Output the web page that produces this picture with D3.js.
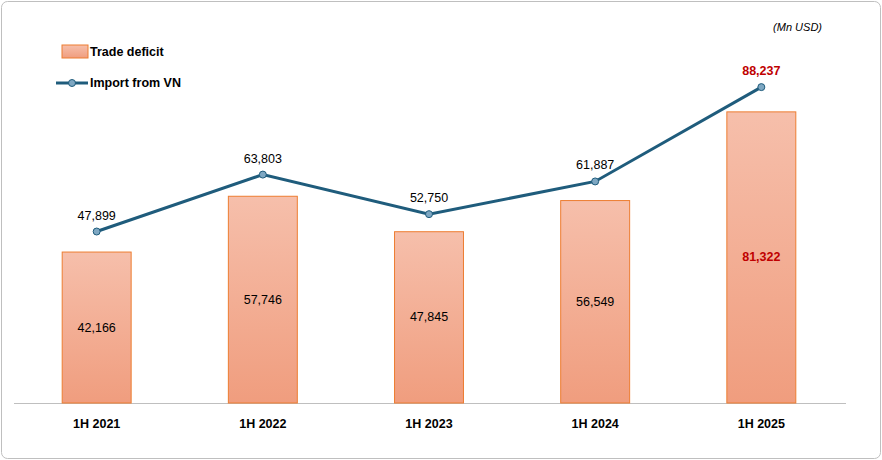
<!DOCTYPE html>
<html><head><meta charset="utf-8">
<script src="https://cdn.jsdelivr.net/npm/d3@7"></script>
<style>body{margin:0;background:#fff;font-family:Arial,"Liberation Sans",sans-serif}</style>
</head><body><svg id="c" width="882" height="460"></svg>
<script>
const periods = ["1H 2021", "1H 2022", "1H 2023", "1H 2024", "1H 2025"];
const tradeDeficit = [42166, 57746, 47845, 56549, 81322];
const importFromVN = [47899, 63803, 52750, 61887, 88237];

const svg = d3.select("#c");
const defs = svg.append("defs");
const grad = defs.append("linearGradient").attr("id", "barg").attr("x1", 0).attr("y1", 0).attr("x2", 0).attr("y2", 1);
grad.append("stop").attr("offset", "0%").attr("stop-color", "#f6bfab");
grad.append("stop").attr("offset", "100%").attr("stop-color", "#f09d7e");

svg.append("rect").attr("x", 1.5).attr("y", 1.5).attr("width", 879).attr("height", 457)
  .attr("rx", 6).attr("fill", "#fff").attr("stroke", "#bfbfbf");

const x = d3.scaleBand().domain(periods).range([14, 844]).paddingInner(0.585).paddingOuter(0.29);
const y = d3.scaleLinear().domain([0, 100000]).range([403, 45]);

svg.append("line").attr("x1", 14).attr("x2", 846).attr("y1", 403.5).attr("y2", 403.5).attr("stroke", "#bfbfbf");

svg.selectAll(".bar").data(tradeDeficit).join("rect")
  .attr("x", (d, i) => x(periods[i])).attr("width", x.bandwidth())
  .attr("y", d => y(d)).attr("height", d => y(0) - y(d))
  .attr("fill", "url(#barg)").attr("stroke", "#ed7d31").attr("stroke-width", 1);

const fmt = d3.format(",");
svg.selectAll(".bl").data(tradeDeficit).join("text")
  .attr("x", (d, i) => x(periods[i]) + x.bandwidth() / 2)
  .attr("y", d => (y(d) + y(0)) / 2 + 4)
  .attr("text-anchor", "middle").attr("font-size", 12.5)
  .attr("fill", (d, i) => i === 4 ? "#c00000" : "#000")
  .attr("font-weight", (d, i) => i === 4 ? "bold" : "normal")
  .text(d => fmt(d));

const cx = i => x(periods[i]) + x.bandwidth() / 2;
svg.append("path").datum(importFromVN)
  .attr("d", d3.line().x((d, i) => cx(i)).y(d => y(d)))
  .attr("fill", "none").attr("stroke", "#1f5c7c").attr("stroke-width", 3);
svg.selectAll(".pt").data(importFromVN).join("circle")
  .attr("cx", (d, i) => cx(i)).attr("cy", d => y(d)).attr("r", 3.5)
  .attr("fill", "#7ea7c2").attr("stroke", "#1f5c7c").attr("stroke-width", 1);
svg.selectAll(".ll").data(importFromVN).join("text")
  .attr("x", (d, i) => cx(i)).attr("y", d => y(d) - 12)
  .attr("text-anchor", "middle").attr("font-size", 12.5)
  .attr("fill", (d, i) => i === 4 ? "#c00000" : "#000")
  .attr("font-weight", (d, i) => i === 4 ? "bold" : "normal")
  .text(d => fmt(d));

svg.append("g").selectAll("text").data(periods).join("text")
  .attr("x", d => x(d) + x.bandwidth() / 2).attr("y", 428)
  .attr("text-anchor", "middle").attr("font-size", 12.5).attr("font-weight", "bold")
  .text(d => d);

// legend
svg.append("rect").attr("x", 62).attr("y", 45).attr("width", 26).attr("height", 13)
  .attr("fill", "url(#barg)").attr("stroke", "#ed7d31");
svg.append("text").attr("x", 90).attr("y", 56).attr("font-size", 12.5).attr("font-weight", "bold").text("Trade deficit");
svg.append("line").attr("x1", 56).attr("x2", 88).attr("y1", 83).attr("y2", 83).attr("stroke", "#1f5c7c").attr("stroke-width", 3);
svg.append("circle").attr("cx", 72).attr("cy", 83).attr("r", 3.5).attr("fill", "#7ea7c2").attr("stroke", "#1f5c7c");
svg.append("text").attr("x", 90).attr("y", 87).attr("font-size", 12.5).attr("font-weight", "bold").text("Import from VN");

svg.append("text").attr("x", 822).attr("y", 31).attr("text-anchor", "end")
  .attr("font-size", 11).attr("font-style", "italic").text("(Mn USD)");
</script></body></html>
